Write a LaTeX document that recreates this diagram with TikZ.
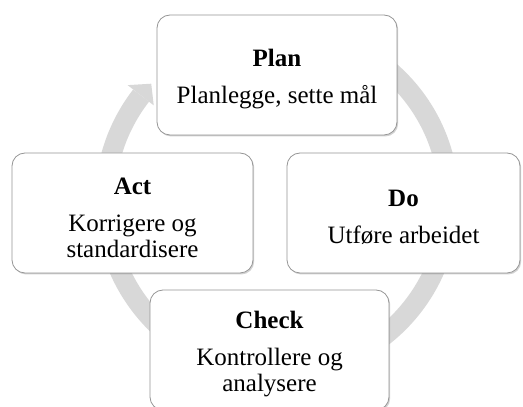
\documentclass[tikz,border=0pt]{standalone}
\usepackage{fontspec}
\setmainfont{Liberation Serif}
\usetikzlibrary{shadows}
\definecolor{ringgray}{RGB}{216,216,216}
\definecolor{boxborder}{RGB}{150,150,150}
\begin{document}
\begin{tikzpicture}[x=1pt,y=1pt,
  cyclebox/.style={draw=boxborder, line width=0.8pt, fill=white, rounded corners=13pt,
    minimum height=120pt, align=center, inner sep=0pt,
    font=\fontsize{25}{26}\selectfont,
    drop shadow={shadow xshift=1.2pt, shadow yshift=-1.5pt, opacity=0.35, fill=black!50}},
  ring/.style={draw=ringgray, line width=20pt}]
\useasboundingbox (0,0) rectangle (523,407);
\fill[white] (0,0) rectangle (523,407);
\coordinate (c) at (277,206);
\draw[ring] ([shift={(90:172pt)}]c) arc[start angle=90, end angle=-217.8, radius=172pt];
\fill[ringgray] ([shift={(142.2:156pt)}]c) -- ([shift={(137:172pt)}]c) -- ([shift={(142.2:189pt)}]c) -- cycle;
\node[cyclebox, minimum width=240pt] (plan) at (277,332) {\rule{0pt}{26pt}\textbf{Plan}\\[11pt]Planlegge, sette mål};
\node[cyclebox, minimum width=233pt] (do) at (403.5,194) {\rule{0pt}{26pt}\textbf{Do}\\[11pt]Utføre arbeidet};
\node[cyclebox, minimum width=239pt] (check) at (269.5,57) {\rule{0pt}{26pt}\textbf{Check}\\[11pt]Kontrollere og\\analysere};
\node[cyclebox, minimum width=241pt] (act) at (132.5,194) {\rule{0pt}{26pt}\textbf{Act}\\[11pt]Korrigere og\\standardisere};
\end{tikzpicture}
\end{document}
